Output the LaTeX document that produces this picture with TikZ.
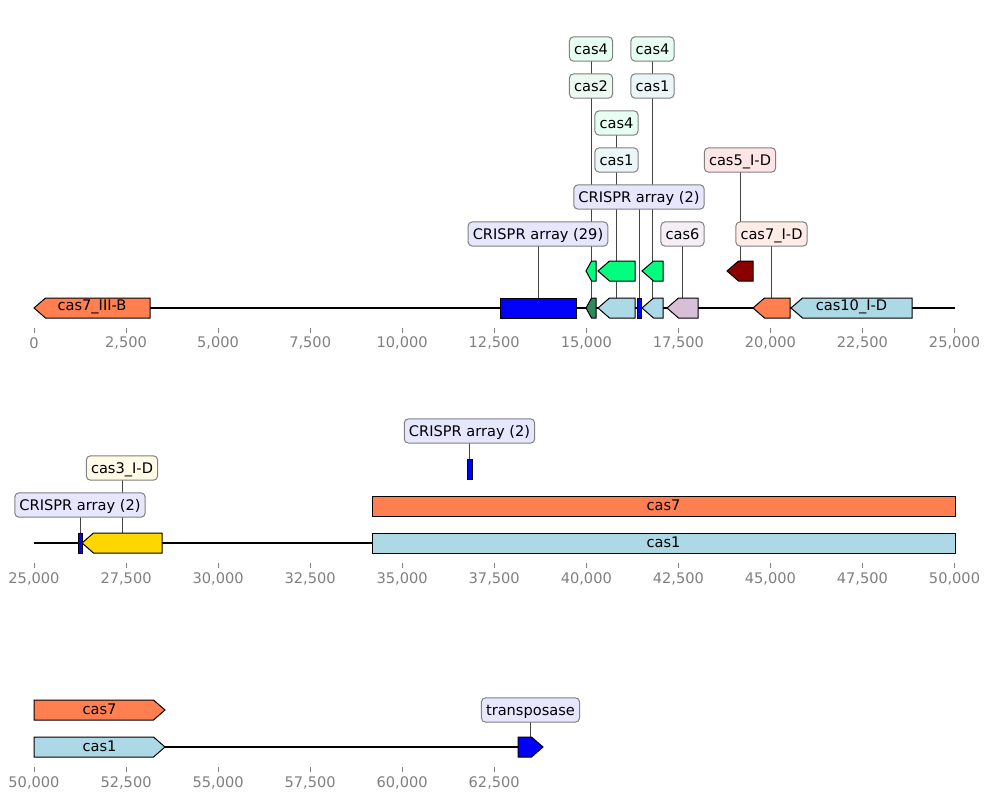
\documentclass[tikz,border=0pt]{standalone}
\usepackage{fontspec}
\setmainfont{DejaVu Sans}
\usetikzlibrary{backgrounds}
\definecolor{coralc}{RGB}{255,127,80}
\definecolor{seagr}{RGB}{46,139,87}
\definecolor{sprgr}{RGB}{0,255,127}
\definecolor{lblue}{RGB}{173,216,230}
\definecolor{thist}{RGB}{216,191,216}
\definecolor{dred}{RGB}{139,0,0}
\definecolor{goldc}{RGB}{255,215,0}
\definecolor{bluec}{RGB}{0,0,255}
\definecolor{lavbox}{RGB}{230,230,255}
\definecolor{sprbox}{RGB}{230,255,242}
\definecolor{seabox}{RGB}{236,249,241}
\definecolor{lbbox}{RGB}{235,246,249}
\definecolor{thbox}{RGB}{245,239,245}
\definecolor{drbox}{RGB}{255,230,230}
\definecolor{corbox}{RGB}{255,236,230}
\definecolor{goldbox}{RGB}{255,251,230}
\definecolor{edgegray}{RGB}{128,128,128}
\definecolor{conngray}{RGB}{68,68,68}
\newcommand{\txtfont}{\fontsize{14.6bp}{17bp}\selectfont}
% left-pointing feature: name, x1, x2, yc, colour
\newcommand{\featL}[5]{%
  \pgfmathsetmacro{\hh}{min(11.5,0.55*(#3-#2))}
  \draw[feat, fill=#5] (#3,#4-10) -- ({#2+\hh},#4-10) -- (#2,#4) -- ({#2+\hh},#4+10) -- (#3,#4+10) -- cycle;
  \coordinate (#1) at ({(#2+#3)/2},#4-10);}
% right-pointing feature
\newcommand{\featR}[5]{%
  \pgfmathsetmacro{\hh}{min(11.5,0.55*(#3-#2))}
  \draw[feat, fill=#5] (#2,#4-10) -- ({#3-\hh},#4-10) -- (#3,#4) -- ({#3-\hh},#4+10) -- (#2,#4+10) -- cycle;
  \coordinate (#1) at ({(#2+#3)/2},#4-10);}
% rectangular feature
\newcommand{\featB}[5]{%
  \draw[feat, fill=#5] (#2,#4-10) rectangle (#3,#4+10);
  \coordinate (#1) at ({(#2+#3)/2},#4-10);}
\tikzset{
  feat/.style={draw=black, line width=1bp, line join=miter},
  lab/.style={draw=edgegray, line width=1bp, rounded corners=4bp, inner xsep=4.6bp, inner ysep=5.2bp,
    text height=12bp, text depth=1.8bp, font=\txtfont, text=black},
  intext/.style={font=\txtfont, text=black, inner sep=0pt},
  conn/.style={draw=conngray, line width=0.8bp},
  baseln/.style={draw=black, line width=2bp},
  tickln/.style={draw=edgegray, line width=0.8bp},
  ticklab/.style={font=\txtfont, text=edgegray, inner sep=0pt}
}
\begin{document}
\begin{tikzpicture}[x=1bp,y=-1bp]
\useasboundingbox (0,0) rectangle (989,800);

% ---------- background, baselines and axes ----------
\begin{scope}[on background layer]
  \fill[white] (0,0) rectangle (989,800);
  \coordinate (b1s) at (34,308); \coordinate (b1e) at (955,308);
  \coordinate (b2s) at (34,543); \coordinate (b2e) at (955,543);
  \coordinate (b3s) at (34,747); \coordinate (b3e) at (543,747);
  \draw[baseln] (b1s) -- (b1e);
  \draw[baseln] (b2s) -- (b2e);
  \draw[baseln] (b3s) -- (b3e);
  \foreach \k/\t in {0/0,1/{2,500},2/{5,000},3/{7,500},4/{10,000},5/{12,500},6/{15,000},7/{17,500},8/{20,000},9/{22,500},10/{25,000}}{
    \draw[tickln] ({34+92.05*\k},328) -- ({34+92.05*\k},333);
    \node[ticklab] (t1\k) at ({34+92.05*\k},343) {\t};}
  \foreach \k/\t in {0/{25,000},1/{27,500},2/{30,000},3/{32,500},4/{35,000},5/{37,500},6/{40,000},7/{42,500},8/{45,000},9/{47,500},10/{50,000}}{
    \draw[tickln] ({34+92.05*\k},563) -- ({34+92.05*\k},568);
    \node[ticklab] (t2\k) at ({34+92.05*\k},578.5) {\t};}
  \foreach \k/\t in {0/{50,000},1/{52,500},2/{55,000},3/{57,500},4/{60,000},5/{62,500}}{
    \draw[tickln] ({34+92.05*\k},767) -- ({34+92.05*\k},772);
    \node[ticklab] (t3\k) at ({34+92.05*\k},782.5) {\t};}
\end{scope}

% ---------- row 1 features ----------
\featL{f1}{34}{150}{308}{coralc}
\node[intext] (f1t) at (92,307) {cas7\_III-B};
\featB{f2}{500}{576}{308}{bluec}
\featL{f3}{586}{596}{308}{seagr}
\featL{f4}{586}{596}{271}{sprgr}
\featL{f5}{598}{635}{308}{lblue}
\featL{f6}{598}{635}{271}{sprgr}
\featB{f7}{637}{641}{308}{bluec}
\featL{f8}{642}{663}{308}{lblue}
\featL{f9}{642}{663}{271}{sprgr}
\featL{f10}{667}{698}{308}{thist}
\featL{f11}{727}{753}{271}{dred}
\featL{f12}{753}{790}{308}{coralc}
\featL{f13}{791}{912}{308}{lblue}
\node[intext] (f13t) at (851.5,307) {cas10\_I-D};

% ---------- row 1 labels ----------
\node[lab, fill=lavbox] (l2) at (538,234) {CRISPR array (29)};
\node[lab, fill=seabox] (l3) at (591,86) {cas2};
\node[lab, fill=sprbox] (l4) at (591,49) {cas4};
\node[lab, fill=lbbox] (l5) at (616.5,160) {cas1};
\node[lab, fill=sprbox] (l6) at (616.5,123) {cas4};
\node[lab, fill=lavbox] (l7) at (639,197) {CRISPR array (2)};
\node[lab, fill=lbbox] (l8) at (652.5,86) {cas1};
\node[lab, fill=sprbox] (l9) at (652.5,49) {cas4};
\node[lab, fill=thbox] (l10) at (682.5,234) {cas6};
\node[lab, fill=drbox] (l11) at (740,160) {cas5\_I-D};
\node[lab, fill=corbox] (l12) at (771.5,234) {cas7\_I-D};

% ---------- row 2 features ----------
\featB{g1}{78}{82}{543}{bluec}
\featL{g2}{82}{162}{543}{goldc}
\featB{g3}{372}{955}{543}{lblue}
\node[intext] (g3t) at (663.5,542) {cas1};
\featB{g4}{372}{955}{506}{coralc}
\node[intext] (g4t) at (663.5,505) {cas7};
\featB{g5}{467}{472}{469}{bluec}
\node[lab, fill=lavbox] (m1) at (80,505) {CRISPR array (2)};
\node[lab, fill=goldbox] (m2) at (122,468) {cas3\_I-D};
\node[lab, fill=lavbox] (m5) at (469.5,431) {CRISPR array (2)};

% ---------- row 3 features ----------
\featR{h1}{34}{165}{747}{lblue}
\node[intext] (h1t) at (99.5,746) {cas1};
\featR{h2}{34}{165}{710}{coralc}
\node[intext] (h2t) at (99.5,709) {cas7};
\featR{h3}{518}{543}{747}{bluec}
\node[lab, fill=lavbox] (n3) at (530.5,710) {transposase};

% ---------- connectors (behind) ----------
\begin{scope}[on background layer]
  \foreach \a/\b in {l2/f2,l3/f3,l4/f4,l5/f5,l6/f6,l7/f7,l8/f8,l9/f9,l10/f10,l11/f11,l12/f12,m1/g1,m2/g2,m5/g5,n3/h3}{
    \draw[conn] (\a.center) -- (\b);}
\end{scope}
\end{tikzpicture}
\end{document}
